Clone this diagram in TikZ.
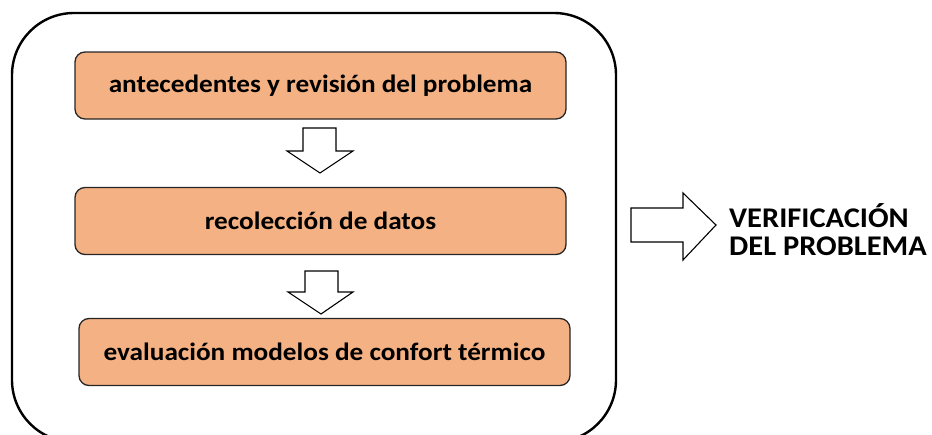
\documentclass[tikz,border=0pt]{standalone}
\usepackage{graphicx}
\usepackage{fontspec}
\setmainfont{Carlito}
\definecolor{boxfill}{HTML}{F4B183}
\definecolor{boxline}{HTML}{262626}
\newcommand{\wideText}[2]{\scalebox{#1}[1]{#2}}
\begin{document}
\begin{tikzpicture}[x=1pt,y=-1pt,
  stepbox/.style={draw=boxline, line width=1.3pt, fill=boxfill, rounded corners=10pt,
    inner sep=0pt, minimum width=491pt, minimum height=67pt, font=\bfseries\fontsize{25}{25}\selectfont},
  blockarrow/.style={draw=black, line width=1.1pt, fill=white, line join=miter},
  outer/.style={draw=black, line width=2.4pt, rounded corners=62pt}]
\useasboundingbox (0,0) rectangle (932,434);
\begin{scope}
\clip (0,0) rectangle (932,434);
\draw[outer] (12,13) rectangle (616,442);
\end{scope}
\node[stepbox] (b1) at (320.5,85.5) {\wideText{1.09}{antecedentes y revisión del problema}};
\node[stepbox] (b2) at (320.5,221) {\wideText{1.09}{recolección de datos}};
\node[stepbox] (b3) at (324.5,352) {\wideText{1.09}{evaluación modelos de confort térmico}};
\draw[blockarrow] (303,128) -- (336,128) -- (336,151) -- (353,151) -- (320,173) -- (287,151) -- (303,151) -- cycle;
\draw[blockarrow] (305,271) -- (338,271) -- (338,292) -- (353,292) -- (321,314) -- (288,292) -- (305,292) -- cycle;
\draw[blockarrow] (631,208) -- (683,208) -- (683,193) -- (716,225) -- (683,260) -- (683,242) -- (631,242) -- cycle;
\node[anchor=west, align=left, inner sep=0pt, font=\bfseries\fontsize{28.5}{28}\selectfont] (v) at (729,230) {\wideText{1.07}{VERIFICACIÓN}\\\wideText{1.07}{DEL PROBLEMA}};
\end{tikzpicture}
\end{document}
